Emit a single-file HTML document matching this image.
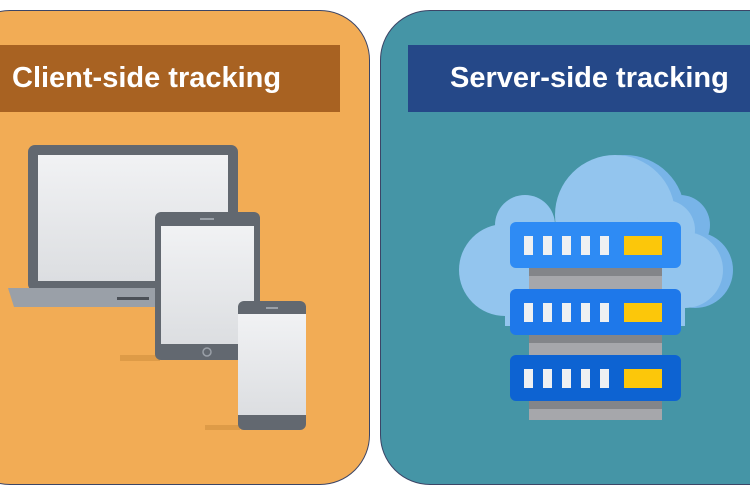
<!DOCTYPE html>
<html><head><style>
body{margin:0;width:750px;height:500px;background:#fff;position:relative;overflow:hidden;font-family:"Liberation Sans",sans-serif}
.p{position:absolute}
</style></head><body>
<div class="p" style="left:-40px;top:10px;width:410px;height:475px;background:#F2AC55;border:1.5px solid #3c4566;border-radius:50px;box-sizing:border-box"></div>
<div class="p" style="left:380px;top:10px;width:420px;height:475px;background:#4595A6;border:1.5px solid #3c4566;border-radius:50px;box-sizing:border-box"></div>
<div class="p" style="left:0;top:45px;width:340px;height:67px;background:#A86222;color:#fff;font-weight:bold;font-size:29px;line-height:67px;padding-left:12px;box-sizing:border-box;white-space:nowrap">Client-side tracking</div>
<div class="p" style="left:408px;top:45px;width:342px;height:67px;background:#254888;color:#fff;font-weight:bold;font-size:29px;line-height:67px;padding-left:42px;box-sizing:border-box;white-space:nowrap">Server-side tracking</div>
<svg class="p" style="left:0;top:0" width="750" height="500">
<defs><linearGradient id="s" x1="0" y1="0" x2="0" y2="1"><stop offset="0" stop-color="#f1f2f4"/><stop offset="1" stop-color="#dcdee1"/></linearGradient></defs>
<rect x="28" y="145" width="210" height="146" rx="7" fill="#626870"/>
<rect x="38" y="155" width="190" height="126" fill="url(#s)"/>
<path d="M8 288 H170 V307 H14 Z" fill="#9aa0a8"/>
<rect x="117" y="297" width="32" height="3" fill="#4b5057"/>
<rect x="120" y="355" width="40" height="6" fill="#c98a3a" opacity="0.5"/>
<rect x="155" y="212" width="105" height="148" rx="6" fill="#626870"/>
<rect x="161" y="226" width="93" height="118" fill="url(#s)"/>
<rect x="200" y="218" width="14" height="2" fill="#9aa0a8"/>
<circle cx="207" cy="352" r="4" fill="none" stroke="#9aa0a8" stroke-width="1.5"/>
<rect x="205" y="425" width="35" height="5" fill="#c98a3a" opacity="0.5"/>
<rect x="238" y="301" width="68" height="129" rx="6" fill="#626870"/>
<rect x="238" y="314" width="68" height="101" fill="url(#s)"/>
<rect x="266" y="307" width="12" height="2" fill="#9aa0a8"/>
<g fill="#78b4e8">
<circle cx="625" cy="215" r="60"/><circle cx="680" cy="225" r="30"/><circle cx="695" cy="270" r="38"/>
</g>
<g fill="#93c5ee">
<circle cx="615" cy="215" r="60"/><circle cx="525" cy="225" r="30"/><circle cx="505" cy="270" r="46"/><circle cx="665" cy="230" r="30"/><circle cx="685" cy="270" r="38"/>
<rect x="505" y="230" width="180" height="96"/>
</g>
<rect x="529" y="260" width="133" height="160" fill="#a6a7ab"/>
<rect x="529" y="268" width="133" height="8" fill="#838589"/>
<rect x="529" y="335" width="133" height="8" fill="#838589"/>
<rect x="529" y="401" width="133" height="8" fill="#838589"/>
<rect x="510" y="222" width="171" height="46" rx="6" fill="#2e8bf4"/>
<rect x="510" y="289" width="171" height="46" rx="6" fill="#1e78ea"/>
<rect x="510" y="355" width="171" height="46" rx="6" fill="#0d63d2"/>
<g fill="#eef0f2">
<rect x="524" y="236" width="9" height="19"/><rect x="543" y="236" width="9" height="19"/><rect x="562" y="236" width="9" height="19"/><rect x="581" y="236" width="9" height="19"/><rect x="600" y="236" width="9" height="19"/>
<rect x="524" y="303" width="9" height="19"/><rect x="543" y="303" width="9" height="19"/><rect x="562" y="303" width="9" height="19"/><rect x="581" y="303" width="9" height="19"/><rect x="600" y="303" width="9" height="19"/>
<rect x="524" y="369" width="9" height="19"/><rect x="543" y="369" width="9" height="19"/><rect x="562" y="369" width="9" height="19"/><rect x="581" y="369" width="9" height="19"/><rect x="600" y="369" width="9" height="19"/>
</g>
<g fill="#fcc70a">
<rect x="624" y="236" width="38" height="19"/><rect x="624" y="303" width="38" height="19"/><rect x="624" y="369" width="38" height="19"/>
</g>
</svg>
</body></html>
